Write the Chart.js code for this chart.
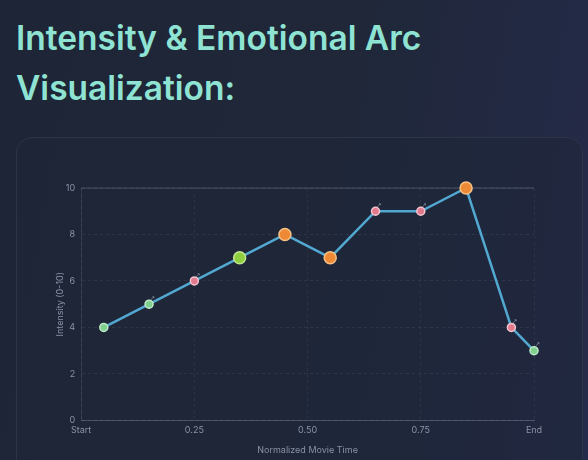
<!DOCTYPE html>
<html lang="en">
<head>
    <meta charset="UTF-8">
    <title>Intensity & Emotional Arc Visualization</title>
    <style>
        html, body { margin: 0; padding: 0; }
        body {
            width: 588px; height: 460px; overflow: hidden;
            font-family: Inter, "Noto Sans", sans-serif;
            background: linear-gradient(100deg, #1e2536 0%, #1f2739 55%, #252b4a 100%);
        }
        h2 {
            position: absolute; left: 16px; top: 13px; margin: 0;
            width: 560px;
            font-size: 33.5px; font-weight: 600; line-height: 50px;
            color: #8fe3d3;
        }
        .card {
            position: absolute; left: 16px; top: 137px; width: 565px; height: 360px;
            border: 1px solid #2c3448; border-radius: 16px;
            background: rgba(30, 38, 56, 0.6);
        }
        .chart-box { position: absolute; left: 55px; top: 172px; width: 501px; height: 288px; }
    </style>
    <script src="https://cdn.jsdelivr.net/npm/chart.js@4.4.2/dist/chart.umd.min.js"></script>
</head>
<body>
    <h2>Intensity &amp; Emotional Arc Visualization:</h2>
    <div class="card"></div>
    <div class="chart-box"><canvas id="arcChart"></canvas></div>

    <script>
        // 数据
        const times = [0.05, 0.15, 0.25, 0.35, 0.45, 0.55, 0.65, 0.75, 0.85, 0.95, 1.0];
        const intensity = [4, 5, 6, 7, 8, 7, 9, 9, 10, 4, 3];
        const moods = ['calm', 'calm', 'tense', 'hope', 'peak', 'peak', 'tense', 'tense', 'peak', 'tense', 'calm'];
        const notes = ['', '↗', '↗', '', '', '', '↗', '↗', '', '↗', '↗'];
        const xTicks = [0, 0.25, 0.5, 0.75, 1];

        const moodFill = { calm: '#7fd08e', tense: '#e27a8e', hope: '#8fcf3f', peak: '#ee8a35' };
        const moodEdge = { calm: '#bfe9c7', tense: '#f2c6d0', hope: '#c2e692', peak: '#f6c286' };
        const moodSize = { calm: 4, tense: 4, hope: 6, peak: 6 };

        const tickColor = '#8a93a6';

        // 小箭头 + 顶部线
        const extras = {
            id: 'extras',
            afterDatasetsDraw(chart) {
                const ctx = chart.ctx;
                const meta = chart.getDatasetMeta(0);
                ctx.save();
                ctx.font = '6px "DejaVu Sans"';
                ctx.fillStyle = '#9aa3b5';
                ctx.textAlign = 'left';
                ctx.textBaseline = 'bottom';
                meta.data.forEach((pt, i) => {
                    if (notes[i]) ctx.fillText(notes[i], pt.x + 1, pt.y - 3);
                });
                ctx.restore();
            },
            beforeDatasetsDraw(chart) {
                const { ctx, chartArea, scales } = chart;
                const y = scales.y.getPixelForValue(10);
                ctx.save();
                ctx.strokeStyle = 'rgba(150,160,180,0.35)';
                ctx.lineWidth = 1;
                ctx.beginPath();
                ctx.moveTo(chartArea.left, y);
                ctx.lineTo(chartArea.right, y);
                ctx.stroke();
                ctx.restore();
            }
        };

        new Chart(document.getElementById('arcChart'), {
            type: 'line',
            data: {
                datasets: [{
                    label: 'Intensity',
                    data: times.map((t, i) => ({ x: t, y: intensity[i] })),
                    borderColor: '#52a8d0',
                    borderWidth: 2.5,
                    tension: 0,
                    clip: false,
                    pointBackgroundColor: moods.map(m => moodFill[m]),
                    pointBorderColor: moods.map(m => moodEdge[m]),
                    pointBorderWidth: 1.5,
                    pointRadius: moods.map(m => moodSize[m]),
                    pointHoverRadius: moods.map(m => moodSize[m] + 1)
                }]
            },
            options: {
                responsive: true,
                maintainAspectRatio: false,
                animation: false,
                layout: { padding: { top: 16, right: 22, bottom: 0, left: 0 } },
                plugins: {
                    legend: { display: false },
                    tooltip: { enabled: false }
                },
                scales: {
                    x: {
                        type: 'linear',
                        min: 0,
                        max: 1,
                        afterBuildTicks: axis => { axis.ticks = xTicks.map(v => ({ value: v })); },
                        ticks: {
                            color: tickColor,
                            font: { size: 9, family: 'Inter' },
                            maxRotation: 0,
                            padding: 4,
                            callback: v => v === 0 ? 'Start' : (v === 1 ? 'End' : v.toFixed(2))
                        },
                        grid: { color: 'rgba(255,255,255,0.06)', drawTicks: false },
                        border: { color: 'rgba(150,160,180,0.35)', dash: [3, 3] },
                        title: {
                            display: true,
                            text: 'Normalized Movie Time',
                            color: tickColor,
                            font: { size: 9, family: 'Inter' },
                            padding: { top: 6 }
                        }
                    },
                    y: {
                        min: 0,
                        max: 10,
                        ticks: {
                            stepSize: 2,
                            color: tickColor,
                            font: { size: 9, family: 'Inter' },
                            padding: 6
                        },
                        grid: { color: 'rgba(255,255,255,0.07)', drawTicks: false },
                        border: { color: 'rgba(150,160,180,0.15)', dash: [3, 3] },
                        title: {
                            display: true,
                            text: 'Intensity (0-10)',
                            color: tickColor,
                            font: { size: 9, family: 'Inter' },
                            padding: { top: 0, bottom: -6 }
                        }
                    }
                }
            },
            plugins: [extras]
        });
    </script>
</body>
</html>
